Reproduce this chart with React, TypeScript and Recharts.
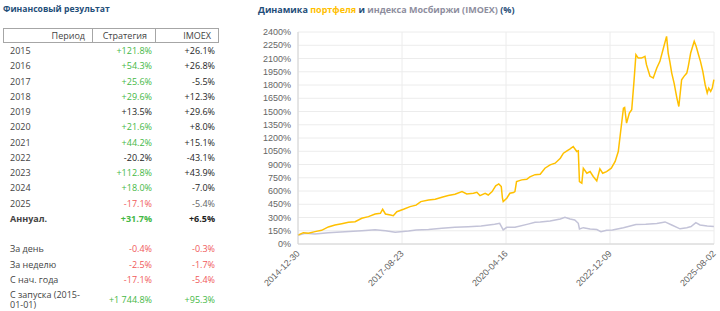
import { LineChart, Line, XAxis, YAxis, CartesianGrid } from 'recharts';

// portfolio value, % of start
const strategyDates = [
  '2014-12-30', '2015-02-17', '2015-04-05', '2015-06-06', '2015-08-07', '2015-10-08', '2015-12-09',
  '2016-02-10', '2016-04-12', '2016-06-13', '2016-08-14', '2016-10-15', '2016-12-16',
  '2017-02-03', '2017-02-24', '2017-03-22', '2017-05-08', '2017-06-03', '2017-07-06', '2017-09-06', '2017-11-06',
  '2018-01-01', '2018-02-14', '2018-04-27', '2018-06-28', '2018-08-29', '2018-10-27', '2018-12-28',
  '2019-03-04', '2019-04-17', '2019-06-18', '2019-07-20', '2019-08-18', '2019-10-05', '2019-11-03', '2019-12-09',
  '2020-01-11', '2020-02-09', '2020-03-03', '2020-03-14', '2020-03-21', '2020-04-23', '2020-05-22', '2020-06-24',
  '2020-07-08', '2020-07-23', '2020-09-09', '2020-10-26', '2020-11-24',
  '2021-01-11', '2021-02-28', '2021-04-13', '2021-05-31', '2021-07-17', '2021-09-03', '2021-10-02', '2021-11-04', '2021-12-03',
  '2022-01-01', '2022-02-03', '2022-02-17', '2022-02-28', '2022-03-22', '2022-04-05', '2022-05-08', '2022-06-07',
  '2022-07-06', '2022-08-08', '2022-09-06', '2022-10-02', '2022-11-07', '2022-12-21',
  '2023-01-26', '2023-02-24', '2023-03-18', '2023-04-13', '2023-04-24', '2023-05-12', '2023-06-07', '2023-06-29',
  '2023-07-20', '2023-08-07', '2023-08-29', '2023-09-27', '2023-10-30', '2023-11-13', '2023-12-16',
  '2024-01-15', '2024-02-17', '2024-03-17', '2024-04-19', '2024-05-18', '2024-06-02', '2024-06-17', '2024-07-05',
  '2024-07-27', '2024-08-22', '2024-09-09', '2024-10-05', '2024-10-27', '2024-11-22', '2024-12-06', '2024-12-28',
  '2025-01-30', '2025-02-17', '2025-03-11', '2025-03-29', '2025-04-20', '2025-05-12', '2025-05-31', '2025-06-14',
  '2025-07-02', '2025-07-17', '2025-08-01',
];
const strategyValues = [
  100, 128, 121, 140, 155, 193, 215,
  230, 245, 253, 291, 310, 340,
  348, 393, 340, 329, 321, 366, 393, 423,
  440, 480, 499, 507, 529, 548, 563,
  593, 567, 574, 585, 548, 574, 555, 593,
  658, 680, 650, 518, 480, 518, 574, 582,
  593, 706, 726, 733, 760,
  785, 790, 858, 896, 915, 971, 1028, 1055, 1077,
  1104, 1047, 1055, 707, 688, 858, 801, 820,
  764, 714, 850, 801, 820, 858,
  934, 1047, 1274, 1538, 1546, 1368, 1482, 1520,
  1841, 2143, 2105, 2105, 2124, 2030, 1898,
  1879, 1992, 2068, 2219, 2351, 2162, 2068, 1935,
  1822, 1652, 1557, 1860, 1898, 1935, 2011, 2162,
  2294, 2238, 2143, 2068, 1954, 1803, 1709, 1765,
  1727, 1765, 1860,
];

const imoexDates = [
  '2014-12-30', '2015-03-07', '2015-06-06', '2015-10-08', '2016-03-10', '2016-08-14', '2016-12-16',
  '2017-03-22', '2017-06-21', '2017-10-22', '2018-01-01', '2018-04-27', '2018-08-29', '2018-12-28',
  '2019-05-01', '2019-08-29', '2020-01-01', '2020-02-17', '2020-03-21', '2020-04-23', '2020-07-08', '2020-11-06',
  '2021-01-11', '2021-02-28', '2021-05-31', '2021-09-03', '2021-10-16', '2021-12-03',
  '2022-01-15', '2022-02-17', '2022-02-28', '2022-04-05', '2022-06-07', '2022-08-08', '2022-09-16', '2022-11-07',
  '2023-01-01', '2023-04-13', '2023-08-07', '2023-11-06', '2024-02-17', '2024-05-04', '2024-07-05',
  '2024-09-20', '2024-11-22', '2025-01-01', '2025-02-14', '2025-03-25', '2025-05-31', '2025-08-01',
];
const imoexValues = [
  100, 121, 113, 128, 140, 151, 162,
  151, 133, 147, 159, 164, 178, 189,
  196, 204, 223, 234, 159, 189, 189, 225,
  246, 248, 261, 284, 302, 284,
  272, 234, 170, 185, 170, 163, 140, 155,
  159, 185, 220, 223, 231, 250, 215,
  172, 185, 197, 242, 215, 204, 197,
];

const xTickLabels = ['2014-12-30', '2017-08-23', '2020-04-16', '2022-12-09', '2025-08-02'];
const yTicks = [0, 150, 300, 450, 600, 750, 900, 1050, 1200, 1350, 1500, 1650, 1800, 1950, 2100, 2250, 2400];

// table
const periods = ['2015', '2016', '2017', '2018', '2019', '2020', '2021', '2022', '2023', '2024', '2025'];
const strategyByYear = [121.8, 54.3, 25.6, 29.6, 13.5, 21.6, 44.2, -20.2, 112.8, 18.0, -17.1];
const imoexByYear = [26.1, 26.8, -5.5, 12.3, 29.6, 8.0, 15.1, -43.1, 43.9, -7.0, -5.4];
const annualStrategy = 31.7;
const annualImoex = 6.5;
const recentLabels = ['За день', 'За неделю', 'С нач. года', 'С запуска (2015-01-01)'];
const recentStrategy = [-0.4, -2.5, -17.1, 1744.8];
const recentImoex = [-0.3, -1.7, -5.4, 95.3];

const GREEN = '#45b845';
const RED = '#f05a5a';
const DARK = '#1e1e1e';
const LABEL = '#444444';
const TABLE_FONT = '"Open Sans", "Noto Sans", sans-serif';
const AXIS_FONT = '"Liberation Sans", Arial, sans-serif';

const fmtPct = (v: number) => {
  const [int, dec] = Math.abs(v).toFixed(1).split('.');
  const grouped = int.replace(/\B(?=(\d{3})+(?!\d))/g, ' ');
  return (v >= 0 ? '+' : '-') + grouped + '.' + dec + '%';
};
const fmtDate = (t: number) => new Date(t).toISOString().slice(0, 10);

const chartData = (() => {
  const map = new Map<number, { t: number; strategy?: number; imoex?: number }>();
  strategyDates.forEach((d, i) => {
    const t = Date.parse(d);
    map.set(t, { ...(map.get(t) || { t }), strategy: strategyValues[i] });
  });
  imoexDates.forEach((d, i) => {
    const t = Date.parse(d);
    map.set(t, { ...(map.get(t) || { t }), imoex: imoexValues[i] });
  });
  return [...map.values()].sort((a, b) => a.t - b.t);
})();

const xTicks = xTickLabels.map((d) => Date.parse(d));

function DateTick(props: any) {
  const { x, y, payload } = props;
  return (
    <g transform={`translate(${x},${y})`}>
      <text x={0} y={0} dy="0.35em" textAnchor="end" transform="rotate(-45)" fill="#666" fontSize={9} fontFamily={AXIS_FONT}>
        {fmtDate(payload.value)}
      </text>
    </g>
  );
}

function Cell({ left, width, top, color, bold, align, children }: any) {
  return (
    <div
      style={{
        position: 'absolute',
        left,
        width,
        top,
        color,
        fontWeight: bold ? 700 : 400,
        textAlign: align || 'left',
        lineHeight: '12px',
        whiteSpace: 'nowrap',
      }}
    >
      {children}
    </div>
  );
}

function strategyColor(s: number, b: number) {
  if (s > 0 && s > b) return GREEN;
  if (s < 0 && s < b) return RED;
  return DARK;
}

function ResultTable() {
  const rowY = (i: number) => 51 + i * 15.27 - 6;
  const lowY = [249, 264.5, 280];
  return (
    <div style={{ position: 'absolute', left: 0, top: 0, width: 240, height: 311, fontFamily: TABLE_FONT, fontSize: 9 }}>
      <div style={{ position: 'absolute', left: 3, top: 2, fontSize: 8.6, fontWeight: 700, color: '#1f4e79', lineHeight: '14px' }}>
        Финансовый результат
      </div>
      <div style={{ position: 'absolute', left: 3, top: 28, width: 216, height: 15, boxSizing: 'border-box', border: '1px solid #a6a6a6' }} />
      <div style={{ position: 'absolute', left: 92, top: 28, width: 1, height: 15, background: '#a6a6a6' }} />
      <div style={{ position: 'absolute', left: 155, top: 28, width: 1, height: 15, background: '#a6a6a6' }} />
      <Cell left={3} width={82} top={29.5} color={LABEL} align="right">Период</Cell>
      <Cell left={92} width={55} top={29.5} color={LABEL} align="right">Стратегия</Cell>
      <Cell left={155} width={56} top={29.5} color={LABEL} align="right">IMOEX</Cell>

      {periods.map((p, i) => (
        <div key={p}>
          <Cell left={10} top={rowY(i)} color={LABEL}>{p}</Cell>
          <Cell left={92} width={60} top={rowY(i)} color={strategyColor(strategyByYear[i], imoexByYear[i])} align="right">
            {fmtPct(strategyByYear[i])}
          </Cell>
          <Cell left={155} width={60} top={rowY(i)} color={i === periods.length - 1 ? '#666' : DARK} align="right">
            {fmtPct(imoexByYear[i])}
          </Cell>
        </div>
      ))}
      <Cell left={10} top={rowY(11)} color={LABEL} bold>Аннуал.</Cell>
      <Cell left={92} width={60} top={rowY(11)} color={GREEN} bold align="right">{fmtPct(annualStrategy)}</Cell>
      <Cell left={155} width={60} top={rowY(11)} color={DARK} bold align="right">{fmtPct(annualImoex)}</Cell>

      {recentLabels.map((label, i) => {
        const last = i === recentLabels.length - 1;
        const y = last ? 300 - 6 : lowY[i] - 6;
        return (
          <div key={label}>
            {last ? (
              <div style={{ position: 'absolute', left: 10, top: 289.5, width: 80, color: LABEL, lineHeight: '10.5px' }}>
                {label.replace('(2015-', '(2015-\u200b')}
              </div>
            ) : (
              <Cell left={10} top={y} color={LABEL}>{label}</Cell>
            )}
            <Cell left={92} width={60} top={y} color={recentStrategy[i] < 0 ? RED : GREEN} align="right">
              {fmtPct(recentStrategy[i])}
            </Cell>
            <Cell left={155} width={60} top={y} color={recentImoex[i] < 0 ? RED : GREEN} align="right">
              {fmtPct(recentImoex[i])}
            </Cell>
          </div>
        );
      })}
    </div>
  );
}

export default function App() {
  return (
    <div style={{ position: 'absolute', left: 0, top: 0, width: 720, height: 311, background: '#fff', overflow: 'hidden' }}>
      <ResultTable />
      <div
        style={{
          position: 'absolute',
          left: 258,
          top: 3,
          fontFamily: TABLE_FONT,
          fontSize: 9,
          fontWeight: 700,
          lineHeight: '14px',
          whiteSpace: 'nowrap',
          color: '#1f4e79',
        }}
      >
        Динамика <span style={{ color: '#ffc000' }}>портфеля</span> и{' '}
        <span style={{ color: '#8e8e9e' }}>индекса Мосбиржи (IMOEX)</span> (%)
      </div>
      <div style={{ position: 'absolute', left: 250, top: 0 }}>
        <LineChart width={470} height={311} data={chartData} margin={{ top: 32, right: 6, bottom: 0, left: 0 }}>
          <CartesianGrid stroke="#ececec" strokeWidth={1} />
          <XAxis
            dataKey="t"
            type="number"
            scale="linear"
            domain={[xTicks[0], xTicks[xTicks.length - 1]]}
            ticks={xTicks}
            height={67}
            tick={<DateTick />}
            tickLine={false}
            tickSize={6}
            tickMargin={2}
            axisLine={{ stroke: '#d4d4d4' }}
            interval={0}
          />
          <YAxis
            type="number"
            domain={[0, 2400]}
            ticks={yTicks}
            width={48}
            tickFormatter={(v: number) => `${v}%`}
            tick={{ fill: '#666', fontSize: 9, fontFamily: AXIS_FONT }}
            tickLine={false}
            tickSize={5}
            tickMargin={2}
            axisLine={{ stroke: '#d4d4d4' }}
            interval={0}
          />
          <Line
            dataKey="imoex"
            type="linear"
            stroke="#c3c3d8"
            strokeWidth={1.5}
            dot={false}
            connectNulls
            isAnimationActive={false}
          />
          <Line
            dataKey="strategy"
            type="linear"
            stroke="#ffc000"
            strokeWidth={1.5}
            dot={false}
            connectNulls
            isAnimationActive={false}
          />
        </LineChart>
      </div>
    </div>
  );
}
